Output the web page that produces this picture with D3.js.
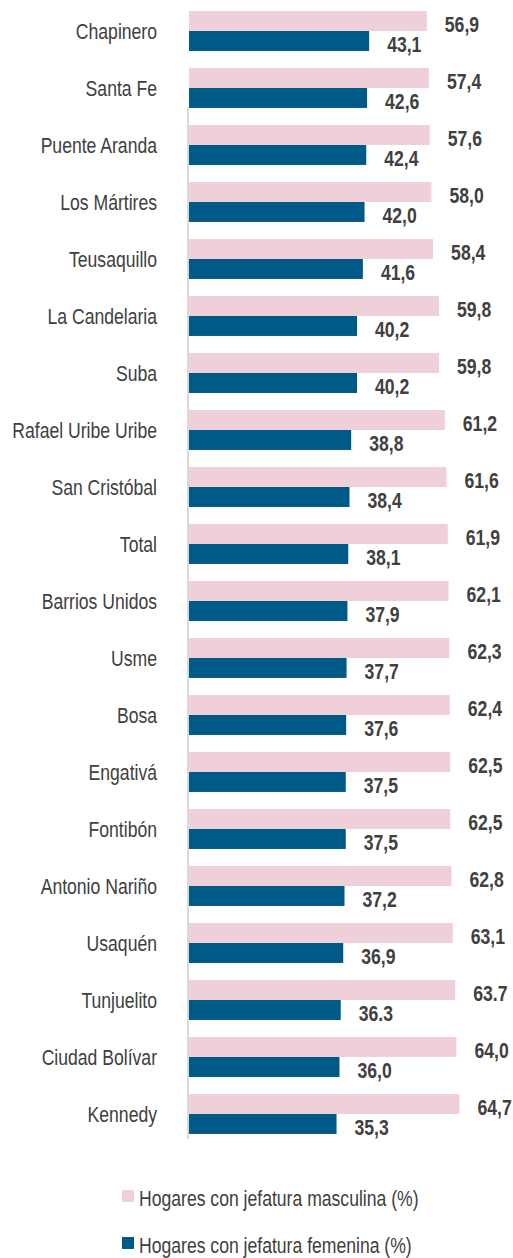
<!DOCTYPE html>
<html lang="es">
  <head>
    <meta charset="UTF-8" />
    <title>Jefatura de hogar por localidad</title>
    <script src="https://cdn.jsdelivr.net/npm/d3@7"></script>
    <style>
      body {
        margin: 0;
        padding: 0;
        background: #fff;
      }
      text {
        font-family: 'Liberation Sans', Arial, sans-serif;
        font-size: 22px;
        fill: #404040;
      }
    </style>
  </head>

  <body>
    <svg width="513" height="1258"></svg>

    <script>
      var localidades = [
        'Chapinero', 'Santa Fe', 'Puente Aranda', 'Los Mártires', 'Teusaquillo',
        'La Candelaria', 'Suba', 'Rafael Uribe Uribe', 'San Cristóbal', 'Total',
        'Barrios Unidos', 'Usme', 'Bosa', 'Engativá', 'Fontibón',
        'Antonio Nariño', 'Usaquén', 'Tunjuelito', 'Ciudad Bolívar', 'Kennedy',
      ]
      var masculina = [56.9, 57.4, 57.6, 58.0, 58.4, 59.8, 59.8, 61.2, 61.6, 61.9,
        62.1, 62.3, 62.4, 62.5, 62.5, 62.8, 63.1, 63.7, 64.0, 64.7]
      var femenina = [43.1, 42.6, 42.4, 42.0, 41.6, 40.2, 40.2, 38.8, 38.4, 38.1,
        37.9, 37.7, 37.6, 37.5, 37.5, 37.2, 36.9, 36.3, 36.0, 35.3]
      // etiquetas tal como aparecen (Tunjuelito usa punto)
      var etiquetasMasc = ['56,9', '57,4', '57,6', '58,0', '58,4', '59,8', '59,8', '61,2',
        '61,6', '61,9', '62,1', '62,3', '62,4', '62,5', '62,5', '62,8', '63,1', '63.7',
        '64,0', '64,7']
      var etiquetasFem = ['43,1', '42,6', '42,4', '42,0', '41,6', '40,2', '40,2', '38,8',
        '38,4', '38,1', '37,9', '37,7', '37,6', '37,5', '37,5', '37,2', '36,9', '36.3',
        '36,0', '35,3']
      var series = ['Hogares con jefatura masculina (%)', 'Hogares con jefatura femenina (%)']
      var colores = ['#f0d0d8', '#005a87']

      // fuente condensada: se comprime en horizontal
      var sx = 0.8

      var svg = d3.select('svg')

      var yScale = d3
        .scaleBand()
        .domain(localidades)
        .range([2.5, 1142.5])
        .paddingInner(0.3)
        .paddingOuter(0.15)

      var ySub = d3
        .scaleBand()
        .domain([0, 1])
        .range([0, yScale.bandwidth()])

      var xScale = d3.scaleLinear().domain([0, 70]).range([189, 481.6])

      // linea del eje
      svg.append('line')
        .attr('x1', 188).attr('x2', 188)
        .attr('y1', 107).attr('y2', 1139)
        .attr('stroke', '#d9d9d9')
        .attr('stroke-width', 2)

      var rows = localidades.map((d, i) => ({
        name: d,
        vals: [masculina[i], femenina[i]],
        labs: [etiquetasMasc[i], etiquetasFem[i]],
      }))

      var gs = svg.selectAll('.row').data(rows).enter().append('g')
        .attr('class', 'row')
        .attr('transform', (d) => `translate(0, ${yScale(d.name)})`)

      gs.append('text')
        .text((d) => d.name)
        .attr('transform', `translate(157, ${yScale.bandwidth() / 2 + 8}) scale(${sx}, 1)`)
        .attr('text-anchor', 'end')

      gs.each(function (d) {
        var g = d3.select(this)
        d.vals.forEach((v, k) => {
          g.append('rect')
            .attr('x', xScale(0))
            .attr('y', ySub(k))
            .attr('width', xScale(v) - xScale(0))
            .attr('height', ySub.bandwidth())
            .attr('fill', colores[k])
          g.append('text')
            .text(d.labs[k])
            .attr('transform', `translate(${xScale(v) + 18}, ${ySub(k) + ySub.bandwidth() + 1}) scale(${sx}, 1)`)
            .style('font-weight', 'bold')
        })
      })

      // leyenda
      var leg = svg.selectAll('.leg').data(series).enter().append('g')
        .attr('class', 'leg')
        .attr('transform', (d, i) => `translate(122, ${1190 + i * 47})`)

      leg.append('rect')
        .attr('width', 12)
        .attr('height', 12)
        .attr('fill', (d, i) => colores[i])

      leg.append('text')
        .text((d) => d)
        .attr('transform', `translate(17, 16) scale(${sx}, 1)`)
    </script>
  </body>
</html>
